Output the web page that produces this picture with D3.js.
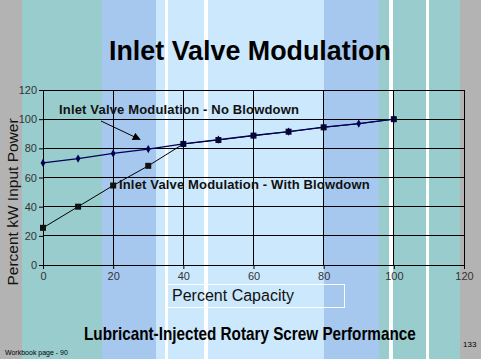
<!DOCTYPE html>
<html><head><meta charset="utf-8">
<script src="https://cdn.jsdelivr.net/npm/d3@7"></script>
<style>html,body{margin:0;padding:0;background:#b3b3b3;}svg{display:block;}</style>
</head><body>
<script>
const capacity = [0,10,20,30,40,50,60,70,80,90,100];
const noBlowdown = [70,73,76.5,79.5,83,86,88.8,91.5,94.5,97,100];
const withBlowdown = [25.5,40,54.5,68,83,85.7,88.7,91.4,94.4,96.9,100];
const squareIdx = [0,1,2,3,4,5,6,7,8,10];
const xTicks = [0,20,40,60,80,100,120];
const yTicks = [0,20,40,60,80,100,120];

const W=481,H=359;
const svg=d3.select("body").append("svg").attr("width",W).attr("height",H);
const bands=[[0,22,"#b3b3b3"],[22,102,"#99cccc"],[102,156,"#a6c8ee"],[156,165,"#cce8fc"],[165,168,"#ffffff"],
[168,204,"#cce8fc"],[204,208,"#ffffff"],[208,324,"#cce8fc"],[324,379,"#a6c8ee"],[379,389,"#99cccc"],
[389,393,"#ffffff"],[393,426,"#99cccc"],[426,429,"#ffffff"],[429,460,"#99cccc"],[460,481,"#b3b3b3"]];
svg.selectAll("rect.band").data(bands).enter().append("rect")
 .attr("x",d=>d[0]).attr("y",0).attr("width",d=>d[1]-d[0]).attr("height",H).attr("fill",d=>d[2]);

const x=d3.scaleLinear().domain([0,120]).range([43,464]);
const y=d3.scaleLinear().domain([0,120]).range([265,90]);

svg.append("g").selectAll("line").data(yTicks).enter().append("line")
 .attr("x1",43).attr("x2",464).attr("y1",d=>y(d)).attr("y2",d=>y(d)).attr("stroke","#000").attr("stroke-width",1).attr("shape-rendering","crispEdges");
svg.append("g").selectAll("line").data(xTicks).enter().append("line")
 .attr("y1",90).attr("y2",265).attr("x1",d=>x(d)).attr("x2",d=>x(d)).attr("stroke","#000").attr("stroke-width",1).attr("shape-rendering","crispEdges");

const yAxis=d3.axisLeft(y).tickValues(yTicks).tickSize(4).tickPadding(2);
const xAxis=d3.axisBottom(x).tickValues(xTicks).tickSize(4).tickPadding(3);
const gy=svg.append("g").attr("transform","translate(43,0)").call(yAxis);
const gx=svg.append("g").attr("transform","translate(0,265)").call(xAxis);
[gy,gx].forEach(g=>{g.select(".domain").attr("stroke","#000");g.selectAll("line").attr("stroke","#000");
 g.selectAll("text").attr("font-family","Liberation Sans, Arial").attr("font-size",11).attr("fill","#333");});

const line=d3.line().x(d=>x(d[0])).y(d=>y(d[1]));
const nb=capacity.map((c,i)=>[c,noBlowdown[i]]);
const wb=capacity.map((c,i)=>[c,withBlowdown[i]]);
svg.append("path").attr("d",line(wb)).attr("fill","none").attr("stroke","#000").attr("stroke-width",1);
svg.append("path").attr("d",line(nb)).attr("fill","none").attr("stroke","#00005a").attr("stroke-width",1.3);
svg.selectAll("rect.sq").data(squareIdx).enter().append("rect")
 .attr("x",i=>x(capacity[i])-3).attr("y",i=>y(withBlowdown[i])-3).attr("width",6).attr("height",6).attr("fill","#111");
svg.selectAll("path.dia").data(nb).enter().append("path")
 .attr("d",d3.symbol(d3.symbolDiamond,20)).attr("transform",d=>`translate(${x(d[0])},${y(d[1])})`).attr("fill","#000050");

svg.append("defs").append("marker").attr("id","ah").attr("viewBox","0 0 10 10").attr("refX",9).attr("refY",5)
 .attr("markerWidth",8).attr("markerHeight",8).attr("markerUnits","userSpaceOnUse").attr("orient","auto")
 .append("path").attr("d","M0,0L10,5L0,10Z").attr("fill","#000");
svg.append("line").attr("x1",101).attr("y1",121).attr("x2",140).attr("y2",139.5).attr("stroke","#000").attr("stroke-width",1).attr("marker-end","url(#ah)");

const F="Liberation Sans, Arial, sans-serif";
function fit(t,target,size){
  t.attr("font-size",size);
  const w=t.node().getComputedTextLength();
  t.attr("font-size",size*target/w);
  return t;
}
fit(svg.append("text").attr("x",109).attr("y",60).attr("font-family",F).attr("font-weight","bold").attr("fill","#000")
 .text("Inlet Valve Modulation"),282,27);
svg.append("text").attr("x",59).attr("y",114).attr("font-family",F).attr("font-weight","bold").attr("font-size",13)
 .attr("letter-spacing",0.17).attr("fill","#111").text("Inlet Valve Modulation - No Blowdown");
svg.append("text").attr("x",119).attr("y",189).attr("font-family",F).attr("font-weight","bold").attr("font-size",13)
 .attr("letter-spacing",0.16).attr("fill","#111").text("Inlet Valve Modulation - With Blowdown");

svg.append("text").attr("transform","translate(18,202) rotate(-90)").attr("text-anchor","middle")
 .attr("font-family",F).attr("font-size",15.5).attr("fill","#111").text("Percent kW Input Power");

svg.append("rect").attr("x",167.5).attr("y",284.5).attr("width",177).attr("height",23).attr("fill","none").attr("stroke","#fff").attr("stroke-width",1);
fit(svg.append("text").attr("x",172).attr("y",301).attr("font-family",F).attr("fill","#111").text("Percent Capacity"),122,15.5);

// footer: condensed via horizontal scale
const foot=svg.append("text").attr("x",0).attr("y",0).attr("font-family",F).attr("font-weight","bold")
 .attr("font-size",18.5).attr("fill","#000").text("Lubricant-Injected Rotary Screw Performance");
const fw=foot.node().getComputedTextLength();
foot.attr("transform",`translate(84,340) scale(${332/fw},1)`);

svg.append("text").attr("x",5).attr("y",355).attr("font-family",F).attr("font-size",7).attr("fill","#000").text("Workbook page - 90");
svg.append("text").attr("x",463).attr("y",347).attr("font-family",F).attr("font-size",8).attr("fill","#000").text("133");
</script>
</body></html>
